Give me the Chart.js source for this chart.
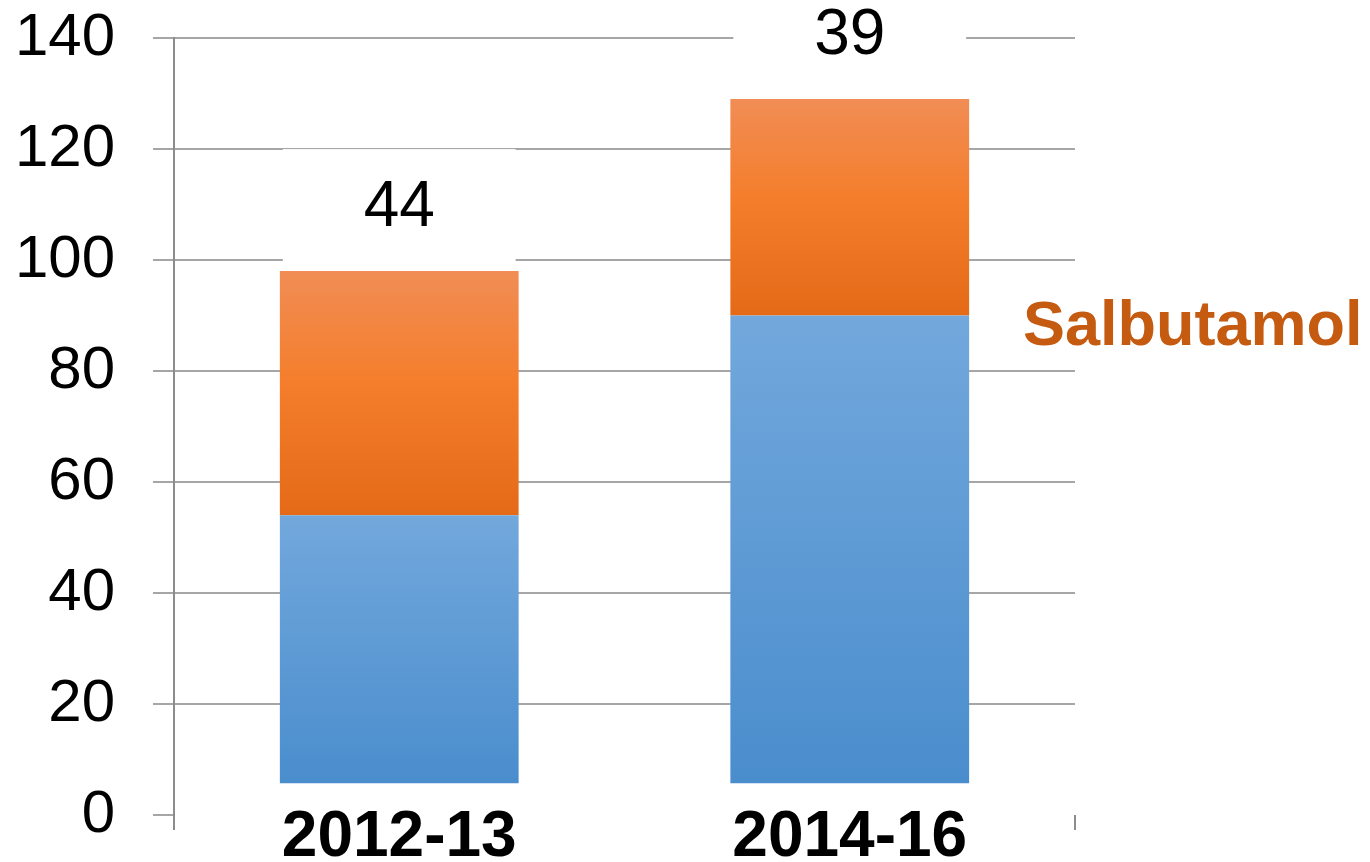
<!DOCTYPE html>
<html>
<head>
<meta charset="utf-8">
<script src="https://cdn.jsdelivr.net/npm/chart.js@4/dist/chart.umd.min.js"></script>
<style>
  html, body { margin: 0; padding: 0; background: #ffffff; }
  #wrap { width: 1370px; height: 862px; position: relative; }
</style>
</head>
<body>
<div id="wrap"><canvas id="c" width="1370" height="862"></canvas></div>
<script>
// ---- data ----
const categories = ['2012-13', '2014-16'];
const barBase = [5.7, 5.7];          // visible start of the blue segment
const blueTop = [54, 90];            // top of blue segment
const salbutamol = [44, 39];         // orange (Salbutamol) segment size
const seriesLabel = 'Salbutamol';
const yMin = 0, yMax = 140, yStep = 20;

const FONT = "'Liberation Sans', Arial, sans-serif";

function gradFor(ctx, stops) {
  const chart = ctx.chart;
  const ys = chart.scales && chart.scales.y;
  if (!chart.chartArea || !ys || !ctx.raw) return stops[0][1];
  const top = ys.getPixelForValue(ctx.raw[1]);
  const bottom = ys.getPixelForValue(ctx.raw[0]);
  const g = chart.ctx.createLinearGradient(0, top, 0, bottom);
  stops.forEach(s => g.addColorStop(s[0], s[1]));
  return g;
}

const labelPlugin = {
  id: 'valueLabels',
  afterDatasetsDraw(chart) {
    const c = chart.ctx;
    const meta = chart.getDatasetMeta(1);
    c.save();
    meta.data.forEach((el, i) => {
      const w = el.width;
      c.fillStyle = '#ffffff';
      c.fillRect(el.x - w / 2 + 3, el.y - 122, w - 6, 114);
      c.fillStyle = '#000000';
      c.font = '64px ' + FONT;
      c.textAlign = 'center';
      c.textBaseline = 'middle';
      c.fillText(String(salbutamol[i]), el.x, el.y - 63);
    });
    // series annotation
    const ca = chart.chartArea;
    c.fillStyle = '#C55A11';
    c.font = 'bold 63px ' + FONT;
    c.textAlign = 'left';
    c.textBaseline = 'alphabetic';
    c.fillText(seriesLabel, ca.right - 52, ca.top + 307);
    c.restore();
  }
};

new Chart(document.getElementById('c'), {
  type: 'bar',
  data: {
    labels: categories,
    datasets: [
      {
        label: 'Other',
        data: categories.map((_, i) => [barBase[i], blueTop[i]]),
        backgroundColor: ctx => gradFor(ctx, [[0, '#72A8DC'], [1, '#4A8DCD']]),
        grouped: false,
        categoryPercentage: 1,
        barPercentage: 0.53
      },
      {
        label: seriesLabel,
        data: categories.map((_, i) => [blueTop[i], blueTop[i] + salbutamol[i]]),
        backgroundColor: ctx => gradFor(ctx, [[0, '#F18D55'], [0.45, '#F47E2C'], [1, '#E46A17']]),
        grouped: false,
        categoryPercentage: 1,
        barPercentage: 0.53
      }
    ]
  },
  options: {
    responsive: false,
    animation: false,
    layout: { padding: { left: 0, right: 295, top: 38, bottom: 0 } },
    plugins: { legend: { display: false }, tooltip: { enabled: false } },
    scales: {
      x: {
        grid: {
          offset: true,
          drawOnChartArea: false,
          drawTicks: true,
          tickLength: 15,
          color: ctx => (ctx.index === 1 ? 'rgba(0,0,0,0)' : '#8C8C8C'),
          lineWidth: 2
        },
        border: { display: false },
        ticks: {
          color: '#000000',
          font: { family: FONT, size: 64, weight: 'bold' },
          mirror: true,
          padding: -62,
          maxRotation: 0
        },
        afterFit(scale) {
          scale.height = 47;
          scale.paddingLeft = 0; scale.paddingRight = 0;
          scale.paddingTop = 0; scale.paddingBottom = 0;
        }
      },
      y: {
        min: yMin,
        max: yMax,
        ticks: {
          stepSize: yStep,
          color: '#000000',
          font: { family: FONT, size: 60 },
          padding: 38
        },
        grid: {
          color: ctx => (ctx.tick && ctx.tick.value === 0 ? 'rgba(0,0,0,0)' : '#A6A6A6'),
          tickColor: '#A6A6A6',
          lineWidth: 2,
          tickLength: 21
        },
        border: { display: true, color: '#8C8C8C', width: 2 },
        afterFit(scale) {
          scale.width = 174;
          scale.paddingTop = 0; scale.paddingBottom = 0;
          scale.paddingLeft = 0; scale.paddingRight = 0;
        }
      }
    }
  },
  plugins: [labelPlugin]
});
</script>
</body>
</html>
